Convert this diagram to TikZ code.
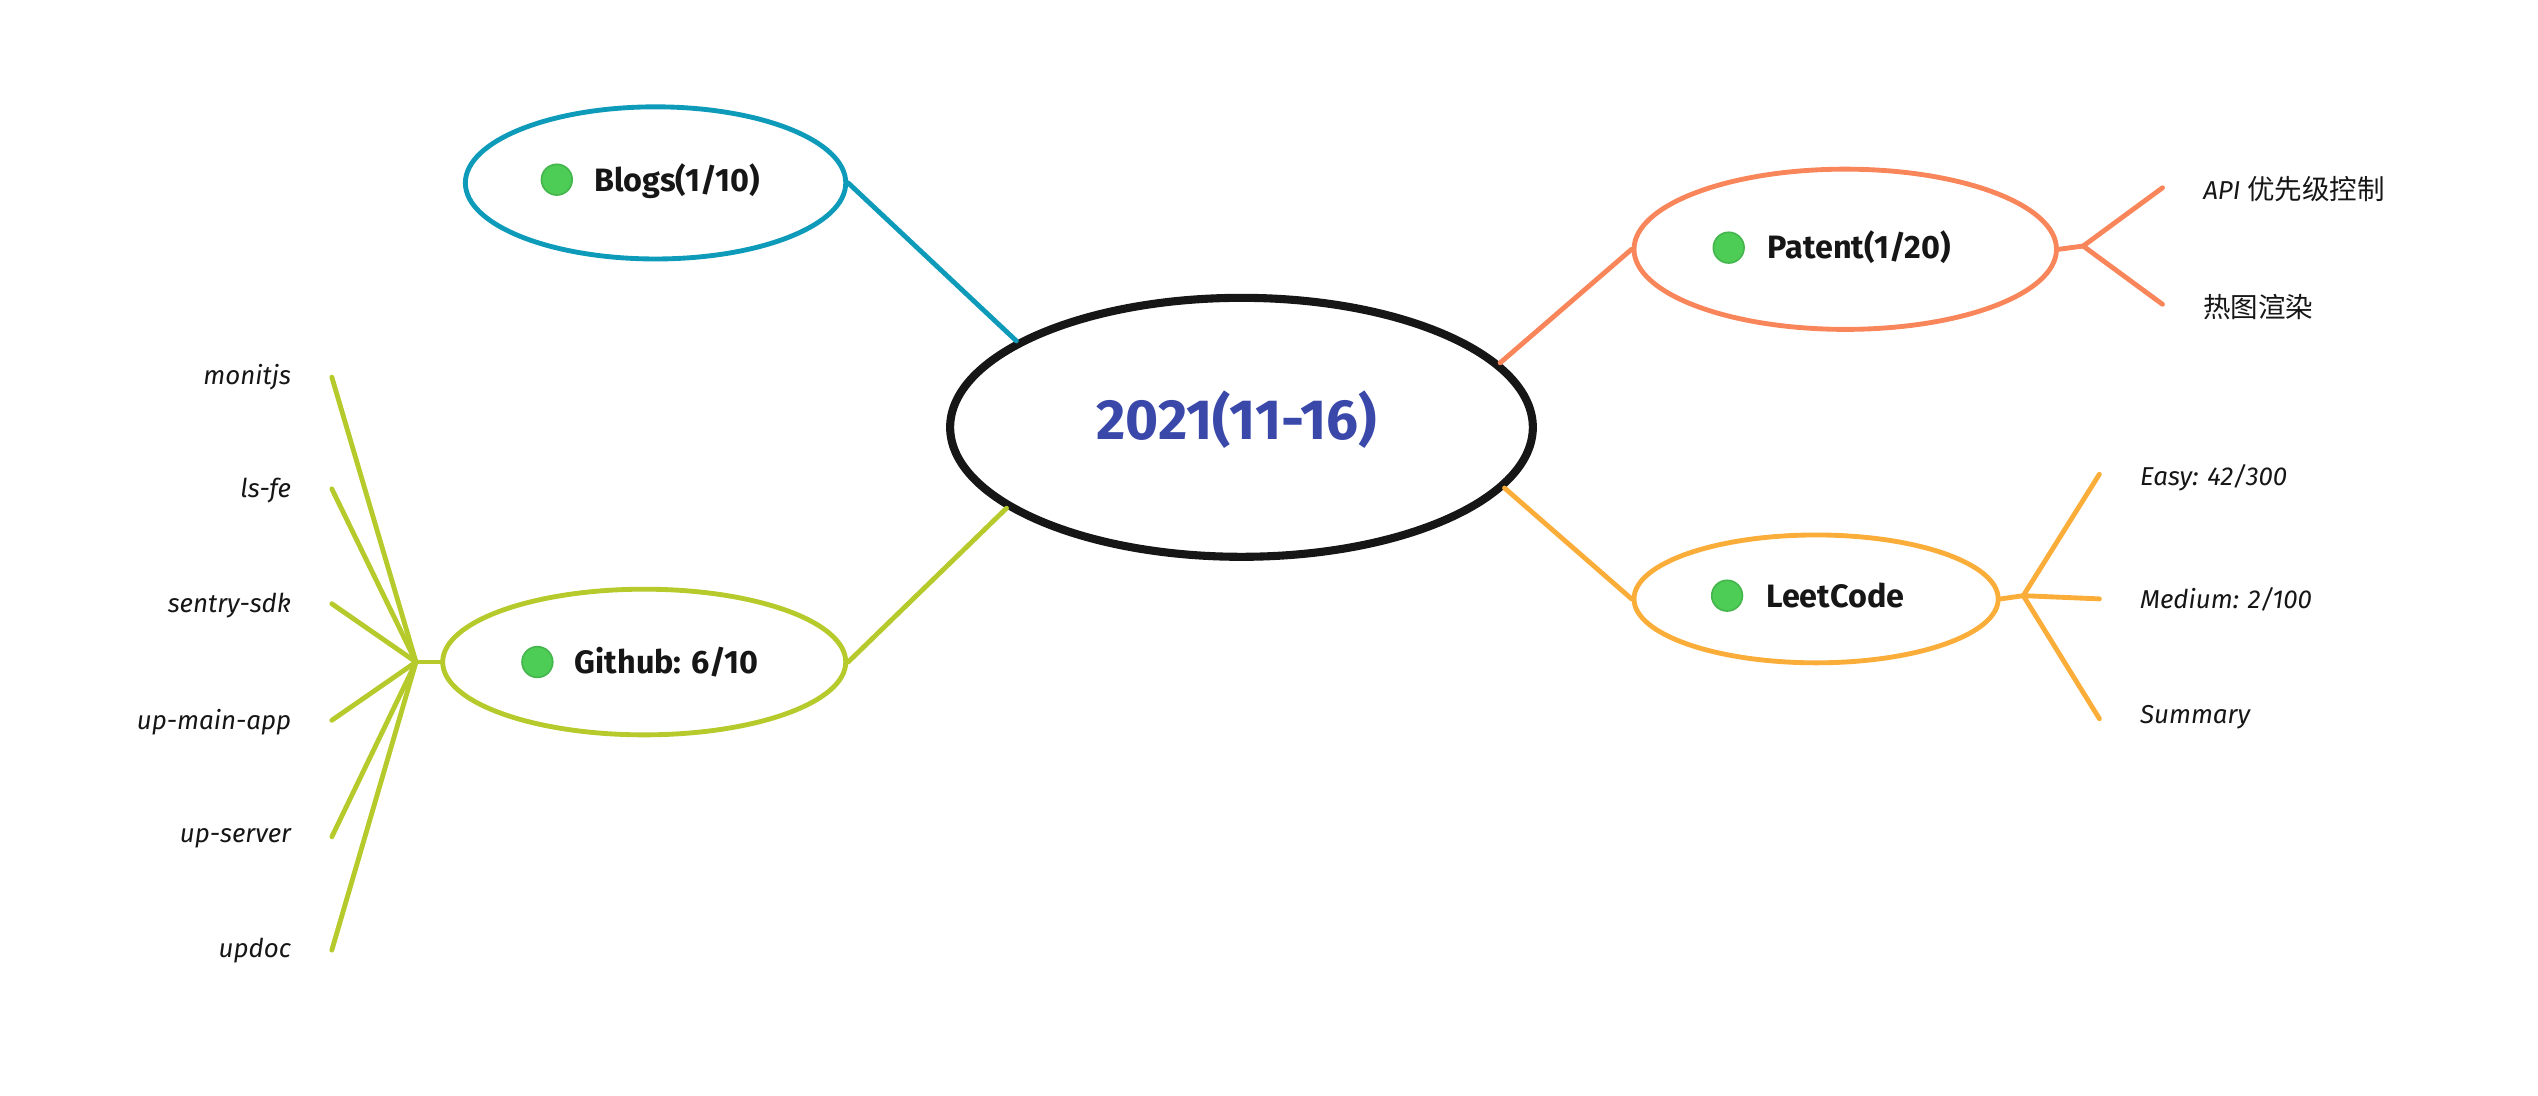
\documentclass[tikz,border=0pt]{standalone}
\usepackage{fontspec}
\setmainfont{Fira Sans}
\newfontfamily\cjk{Noto Sans CJK SC}
\usetikzlibrary{shapes.geometric}
\definecolor{cblue}{HTML}{0E9BBA}
\definecolor{corange}{HTML}{F8865A}
\definecolor{cyellow}{HTML}{FBAD3A}
\definecolor{clime}{HTML}{B6CA2C}
\definecolor{cdot}{HTML}{4DCC56}
\definecolor{cdotb}{HTML}{44B64D}
\definecolor{ctitle}{HTML}{3A48AA}
\definecolor{cink}{HTML}{161616}
\begin{document}
\begin{tikzpicture}[x=1pt,y=-1pt,
  topic/.style={ellipse, draw, line width=3pt, inner sep=0pt},
  gdot/.style={circle, fill=cdot, draw=cdotb, line width=1pt, minimum size=19pt, inner sep=0pt},
  ttl/.style={font=\fontsize{20}{24}\selectfont\bfseries, text=cink, anchor=west, inner sep=0pt},
  leafr/.style={font=\fontsize{16}{19}\selectfont\itshape, text=cink, anchor=west, inner sep=0pt},
  leafl/.style={font=\fontsize{16}{19}\selectfont\itshape, text=cink, anchor=east, inner sep=0pt},
  link/.style={line width=3pt, line cap=round}]
\useasboundingbox (0,0) rectangle (1568,677);

% central topic
\node[ellipse, draw=cink, line width=5pt, minimum width=360pt, minimum height=160pt, inner sep=0pt] (root) at (767,264) {};
\node[font=\fontsize{35}{40}\selectfont\bfseries, text=ctitle, inner sep=0pt] (roottext) at (764,259) {2021(11-16)};

% Blogs
\node[topic, draw=cblue, minimum width=235pt, minimum height=94pt] (blogs) at (405,113) {};
\node[gdot] (blogsdot) at (344,111) {};
\node[ttl] (blogst) at (367,112) {Blogs(1/10)};

% Patent
\node[topic, draw=corange, minimum width=261pt, minimum height=99pt] (patent) at (1140,154) {};
\node[gdot] (patentdot) at (1068,153) {};
\node[ttl] (patentt) at (1092,153) {Patent(1/20)};

% LeetCode
\node[topic, draw=cyellow, minimum width=225pt, minimum height=79pt] (leet) at (1122,370) {};
\node[gdot] (leetdot) at (1067,368) {};
\node[ttl] (leett) at (1091,368) {LeetCode};

% Github
\node[topic, draw=clime, minimum width=249pt, minimum height=90pt] (github) at (398,409) {};
\node[gdot] (githubdot) at (332,409) {};
\node[ttl] (githubt) at (355,409) {Github: 6/10};

% main connectors
\draw[link, cblue] (blogs.east) -- (root.159);
\draw[link, corange] (patent.west) -- (root.14);
\draw[link, cyellow] (leet.west) -- (root.-13);
\draw[link, clime] (github.east) -- (root.199);

% Patent leaves
\coordinate (pb) at (1287,152);
\coordinate (p1e) at (1336,116);
\coordinate (p2e) at (1336,188);
\node[leafr] (p1) at (1361,117) {API {\cjk\upshape\fontsize{17}{19}\selectfont 优先级控制}};
\node[leafr] (p2) at (1361,190) {{\cjk\upshape\fontsize{17}{19}\selectfont 热图渲染}};
\draw[link, corange] (patent.east) -- (pb);
\draw[link, corange] (pb) -- (p1e);
\draw[link, corange] (pb) -- (p2e);

% LeetCode leaves
\coordinate (lb) at (1250,368);
\coordinate (l1e) at (1297,293);
\coordinate (l2e) at (1297,370);
\coordinate (l3e) at (1297,444);
\node[leafr] (l1) at (1322,295) {Easy: 42/300};
\node[leafr] (l2) at (1322,370) {Medium: 2/100};
\node[leafr] (l3) at (1322,443) {Summary};
\draw[link, cyellow] (leet.east) -- (lb);
\draw[link, cyellow] (lb) -- (l1e);
\draw[link, cyellow] (lb) -- (l2e);
\draw[link, cyellow] (lb) -- (l3e);

% Github leaves
\coordinate (gb) at (257,409);
\coordinate (g1e) at (205,233);
\coordinate (g2e) at (205,302);
\coordinate (g3e) at (205,373);
\coordinate (g4e) at (205,445);
\coordinate (g5e) at (205,517);
\coordinate (g6e) at (205,587);
\node[leafl] (g1) at (180,233) {monitjs};
\node[leafl] (g2) at (180,303) {ls-fe};
\node[leafl] (g3) at (180,374) {sentry-sdk};
\node[leafl] (g4) at (180,446) {up-main-app};
\node[leafl] (g5) at (180,518) {up-server};
\node[leafl] (g6) at (180,587) {updoc};
\draw[link, clime] (github.west) -- (gb);
\foreach \e in {g1e,g2e,g3e,g4e,g5e,g6e}
  \draw[link, clime] (gb) -- (\e);
\end{tikzpicture}
\end{document}
